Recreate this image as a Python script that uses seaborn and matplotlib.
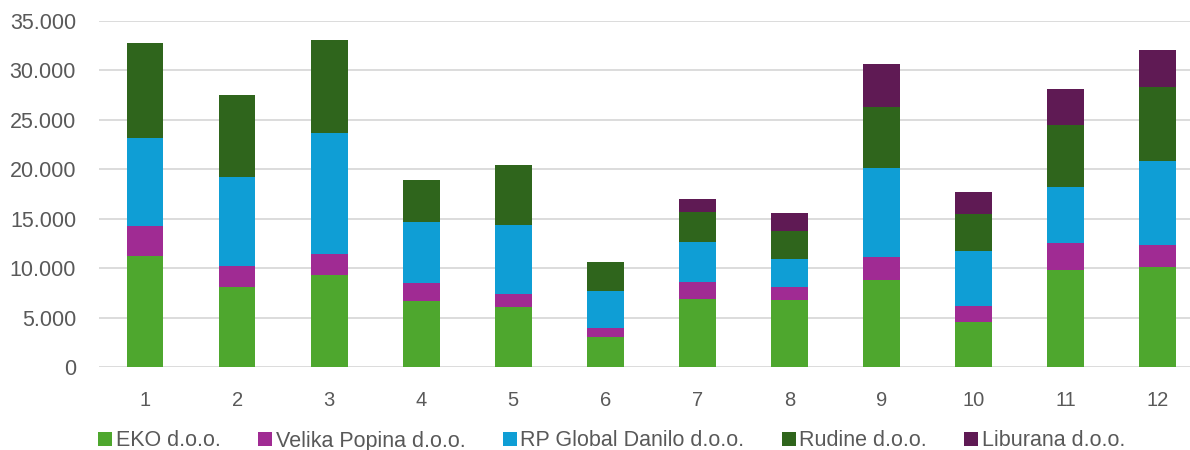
import matplotlib
matplotlib.use("Agg")
import matplotlib.pyplot as plt
from matplotlib.lines import Line2D
from matplotlib.ticker import FuncFormatter, MultipleLocator
import numpy as np
import pandas as pd
import seaborn as sns

# Monthly quantities per company
months = ["1", "2", "3", "4", "5", "6", "7", "8", "9", "10", "11", "12"]
eko = [11200, 8100, 9300, 6700, 6100, 3050, 6850, 6750, 8850, 4550, 9800, 10150]
velika_popina = [3100, 2100, 2100, 1850, 1250, 900, 1750, 1400, 2250, 1650, 2700, 2200]
rp_global = [8850, 9000, 12300, 6100, 7050, 3750, 4000, 2800, 9000, 5550, 5700, 8450]
rudine = [9590, 8300, 9300, 4300, 6000, 2950, 3050, 2800, 6150, 3700, 6250, 7450]
liburana = [0, 0, 0, 0, 0, 0, 1300, 1800, 4350, 2200, 3600, 3800]

series_names = ["EKO d.o.o.", "Velika Popina d.o.o.", "RP Global Danilo d.o.o.",
                "Rudine d.o.o.", "Liburana d.o.o."]
series_values = [eko, velika_popina, rp_global, rudine, liburana]
colors = ["#4EA72E", "#A02B93", "#0F9ED5", "#2F651C", "#5F1A54"]

sns.set_theme(style="white")
plt.rcParams["font.family"] = ["Liberation Sans", "DejaVu Sans"]

df = pd.DataFrame({"month": months})
for name, vals in zip(series_names, series_values):
    df[name] = vals

# cumulative tops for stacking
cum = np.cumsum(np.array(series_values, dtype=float), axis=0)

W, H = 1190, 450
fig = plt.figure(figsize=(W / 100, H / 100), dpi=100)
ax = fig.add_axes([99 / W, 82.7 / H, 1104.6 / W, 346.7 / H])

# draw from the top layer down so each lower layer covers the one above it
for i in range(len(series_names) - 1, -1, -1):
    sns.barplot(x=df["month"], y=cum[i], color=colors[i], width=0.4,
                saturation=1, ax=ax, linewidth=0, order=months)

ax.set_ylim(0, 35000)
ax.set_xlim(-0.5, 11.5)
ax.yaxis.set_major_locator(MultipleLocator(5000))
ax.yaxis.set_major_formatter(FuncFormatter(lambda v, p: f"{int(v):,}".replace(",", ".")))
ax.set_axisbelow(True)
ax.grid(axis="y", color="#D9D9D9", linewidth=1.3)
ax.grid(axis="x", visible=False)
for s in ax.spines.values():
    s.set_visible(False)
ax.set_xlabel("")
ax.set_ylabel("")
ax.tick_params(axis="y", length=0, pad=16.5, labelsize=15.5, labelcolor="#595959")
ax.tick_params(axis="x", length=0, pad=17, labelsize=14.5, labelcolor="#595959")

handles = [Line2D([0], [0], marker="s", linestyle="", markersize=9.4,
                  markerfacecolor=c, markeredgewidth=0) for c in colors]
fig.legend(handles, series_names, loc="center", bbox_to_anchor=(611 / W, 9 / H),
           ncol=5, frameon=False, fontsize=15.5, labelcolor="#595959",
           handletextpad=0.1, columnspacing=1.65, handlelength=0.8)

fig.savefig("out.png", dpi=100)
